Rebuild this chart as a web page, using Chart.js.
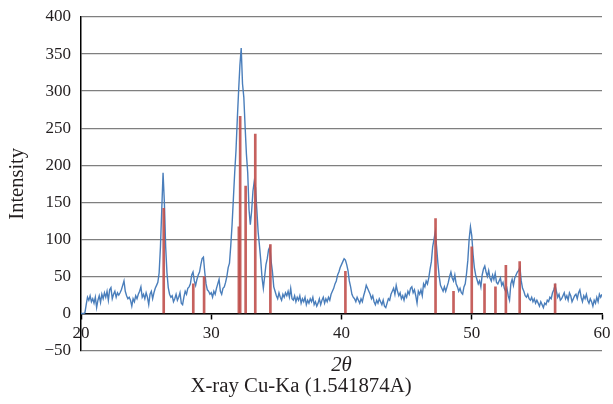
<!DOCTYPE html>
<html>
<head>
<meta charset="utf-8">
<script src="https://cdn.jsdelivr.net/npm/chart.js@4.4.1/dist/chart.umd.min.js"></script>
<style>
  html, body { margin: 0; padding: 0; background: #fff; }
  #wrap { width: 613px; height: 404px; }
</style>
</head>
<body>
<div id="wrap"><canvas id="xrd"></canvas></div>
<script>
// measured pattern, 2theta (deg) vs intensity
const twoTheta = [
  20.0,20.1,20.2,20.3,20.4,20.5,20.6,20.7,20.8,20.9,
  21.0,21.1,21.2,21.3,21.4,21.5,21.6,21.7,21.8,21.9,
  22.0,22.1,22.2,22.3,22.4,22.5,22.6,22.7,22.8,22.9,
  23.0,23.1,23.2,23.3,23.4,23.5,23.6,23.7,23.8,23.9,
  24.0,24.1,24.2,24.3,24.4,24.5,24.6,24.7,24.8,24.9,
  25.0,25.1,25.2,25.3,25.4,25.5,25.6,25.7,25.8,25.9,
  26.0,26.1,26.2,26.3,26.4,26.5,26.6,26.7,26.8,26.9,
  27.0,27.1,27.2,27.3,27.4,27.5,27.6,27.7,27.8,27.9,
  28.0,28.1,28.2,28.3,28.4,28.5,28.6,28.7,28.8,28.9,
  29.0,29.1,29.2,29.3,29.4,29.5,29.6,29.7,29.8,29.9,
  30.0,30.1,30.2,30.3,30.4,30.5,30.6,30.7,30.8,30.9,
  31.0,31.1,31.2,31.3,31.4,31.5,31.6,31.7,31.8,31.9,
  32.0,32.1,32.2,32.3,32.4,32.5,32.6,32.7,32.8,32.9,
  33.0,33.1,33.2,33.3,33.4,33.5,33.6,33.7,33.8,33.9,
  34.0,34.1,34.2,34.3,34.4,34.5,34.6,34.7,34.8,34.9,
  35.0,35.1,35.2,35.3,35.4,35.5,35.6,35.7,35.8,35.9,
  36.0,36.1,36.2,36.3,36.4,36.5,36.6,36.7,36.8,36.9,
  37.0,37.1,37.2,37.3,37.4,37.5,37.6,37.7,37.8,37.9,
  38.0,38.1,38.2,38.3,38.4,38.5,38.6,38.7,38.8,38.9,
  39.0,39.1,39.2,39.3,39.4,39.5,39.6,39.7,39.8,39.9,
  40.0,40.1,40.2,40.3,40.4,40.5,40.6,40.7,40.8,40.9,
  41.0,41.1,41.2,41.3,41.4,41.5,41.6,41.7,41.8,41.9,
  42.0,42.1,42.2,42.3,42.4,42.5,42.6,42.7,42.8,42.9,
  43.0,43.1,43.2,43.3,43.4,43.5,43.6,43.7,43.8,43.9,
  44.0,44.1,44.2,44.3,44.4,44.5,44.6,44.7,44.8,44.9,
  45.0,45.1,45.2,45.3,45.4,45.5,45.6,45.7,45.8,45.9,
  46.0,46.1,46.2,46.3,46.4,46.5,46.6,46.7,46.8,46.9,
  47.0,47.1,47.2,47.3,47.4,47.5,47.6,47.7,47.8,47.9,
  48.0,48.1,48.2,48.3,48.4,48.5,48.6,48.7,48.8,48.9,
  49.0,49.1,49.2,49.3,49.4,49.5,49.6,49.7,49.8,49.9,
  50.0,50.1,50.2,50.3,50.4,50.5,50.6,50.7,50.8,50.9,
  51.0,51.1,51.2,51.3,51.4,51.5,51.6,51.7,51.8,51.9,
  52.0,52.1,52.2,52.3,52.4,52.5,52.6,52.7,52.8,52.9,
  53.0,53.1,53.2,53.3,53.4,53.5,53.6,53.7,53.8,53.9,
  54.0,54.1,54.2,54.3,54.4,54.5,54.6,54.7,54.8,54.9,
  55.0,55.1,55.2,55.3,55.4,55.5,55.6,55.7,55.8,55.9,
  56.0,56.1,56.2,56.3,56.4,56.5,56.6,56.7,56.8,56.9,
  57.0,57.1,57.2,57.3,57.4,57.5,57.6,57.7,57.8,57.9,
  58.0,58.1,58.2,58.3,58.4,58.5,58.6,58.7,58.8,58.9,
  59.0,59.1,59.2,59.3,59.4,59.5,59.6,59.7,59.8,59.9,
  60.0
];
const intensity = [
  0,0,0,1,12,22,18,24,16,20,
  14,22,8,18,24,15,26,20,28,22,
  30,18,32,35,20,26,30,22,28,25,
  28,32,38,44,30,24,20,22,18,10,
  20,16,24,20,26,30,36,22,26,20,
  28,22,12,26,30,20,28,34,38,42,
  55,90,140,190,150,90,55,35,26,22,
  24,16,20,26,18,22,28,14,12,22,
  30,26,34,36,40,52,56,44,38,46,
  52,56,66,74,76,56,40,32,30,26,
  28,22,30,26,34,40,46,30,26,34,
  36,42,50,62,68,92,120,155,190,220,
  262,300,335,358,310,292,252,215,190,140,
  120,138,165,178,170,140,110,92,72,48,
  34,50,66,74,86,90,70,56,36,30,
  24,20,28,22,18,26,22,28,24,30,
  22,34,20,18,24,16,22,18,24,14,
  20,16,22,12,18,14,20,16,22,12,
  16,10,14,20,12,18,22,14,20,16,
  22,18,26,30,34,40,44,52,56,62,
  66,70,74,72,66,58,44,36,26,22,
  20,16,22,18,14,20,16,24,30,38,
  34,30,26,20,24,16,12,18,14,20,
  16,12,18,10,8,14,20,18,26,30,
  34,26,38,30,24,28,20,24,18,26,
  22,30,26,34,36,28,32,24,14,30,
  26,32,24,40,36,44,40,48,60,70,
  90,100,110,90,68,50,38,34,30,36,
  30,36,42,50,56,48,44,52,40,36,
  30,34,28,26,36,40,54,72,100,117,
  105,80,62,52,46,40,44,36,52,60,
  64,56,50,58,48,44,52,46,54,42,
  40,44,48,38,42,34,30,34,24,18,
  40,46,38,48,52,56,58,62,44,34,
  30,24,22,26,20,18,22,16,20,14,
  18,14,10,16,12,8,14,12,18,16,
  22,20,28,32,38,30,22,26,18,20,
  24,28,20,24,18,28,24,16,20,24,
  26,20,28,32,22,16,24,20,26,18,
  14,20,16,10,18,14,22,16,26,22,
  26
];
// reference (card) lines
const refTheta = [26.35, 28.62, 29.45, 32.12, 32.22, 32.64, 33.38, 34.54, 40.3, 47.22, 48.6, 50.0, 50.98, 51.82, 52.62, 53.68, 56.4];
const refIntensity = [142, 40, 50, 117, 266, 172, 242, 93, 57, 128, 30, 90, 40, 36, 65, 70, 40];

const xTicks = [20, 30, 40, 50, 60];

const serif = "'Liberation Serif', 'DejaVu Serif', serif";

new Chart(document.getElementById('xrd'), {
  type: 'line',
  data: {
    datasets: [
      {
        type: 'bar',
        data: refTheta.map((x, i) => ({ x: x, y: refIntensity[i] })),
        backgroundColor: 'rgba(192, 80, 77, 0.9)',
        barThickness: 2,
        order: 0
      },
      {
        type: 'line',
        data: twoTheta.map((x, i) => ({ x: x, y: intensity[i] })),
        borderColor: '#4a7ebb',
        borderWidth: 1.4,
        pointRadius: 0,
        tension: 0,
        order: 1
      }
    ]
  },
  options: {
    responsive: true,
    maintainAspectRatio: false,
    animation: false,
    events: [],
    layout: { padding: { left: 0, right: 11, top: 17, bottom: 0 } },
    plugins: {
      legend: { display: false },
      tooltip: { enabled: false },
      title: {
        display: true,
        position: 'bottom',
        text: 'X-ray Cu-Ka (1.541874A)',
        color: '#231f20',
        font: { family: serif, size: 20.8, weight: 'normal', lineHeight: 1 },
        padding: { top: 0, bottom: 7.5 }
      }
    },
    scales: {
      x: {
        type: 'linear',
        position: { y: 0 },
        min: 20,
        max: 60,
        offset: false,
        afterBuildTicks: (s) => { s.ticks = xTicks.map(v => ({ value: v })); },
        // axis sits at y = 0 inside the plot, so it should not eat layout space
        afterFit: (s) => { s.height = 0; s.paddingLeft = 0; s.paddingRight = 0; },
        ticks: {
          color: '#231f20',
          font: { family: serif, size: 17 },
          padding: 5,
          maxRotation: 0
        },
        grid: { offset: false, drawOnChartArea: false, drawTicks: true, tickLength: 5, color: '#000', tickWidth: 1.5 },
        border: { display: true, color: '#000', width: 1.5 }
      },
      x2: {
        type: 'linear',
        position: 'bottom',
        min: 20,
        max: 60,
        offset: false,
        afterFit: (s) => { s.paddingLeft = 0; s.paddingRight = 0; },
        ticks: { display: false },
        grid: { display: false, drawTicks: false },
        border: { display: false },
        title: {
          display: true,
          text: '2θ',
          color: '#231f20',
          font: { family: serif, size: 20.8, style: 'italic', lineHeight: 1 },
          padding: { top: 4.3, bottom: 0 }
        }
      },
      y: {
        min: -50,
        max: 400,
        afterFit: (s) => { s.width = 81; s.paddingTop = 0; s.paddingBottom = 0; },
        ticks: {
          stepSize: 50,
          color: '#231f20',
          font: { family: serif, size: 17 },
          padding: 10,
          callback: (v) => String(v).replace('-', '\u2212')
        },
        grid: { color: '#7f7f7f', lineWidth: 1.3, drawTicks: false },
        border: { display: true, color: '#000', width: 1.5 },
        title: {
          display: true,
          text: 'Intensity',
          color: '#231f20',
          font: { family: serif, size: 20.5 },
          padding: { top: 5, bottom: 0 }
        }
      }
    }
  }
});
</script>
</body>
</html>
